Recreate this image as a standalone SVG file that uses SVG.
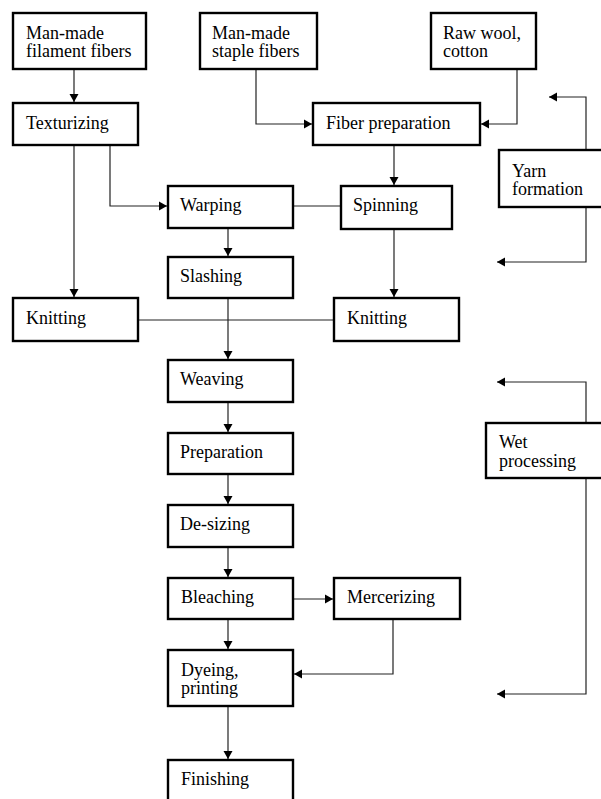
<svg xmlns="http://www.w3.org/2000/svg" width="601" height="799" viewBox="0 0 601 799">
<style>
.box{fill:#fff;stroke:#000;stroke-width:2.4}
.t{font-family:"Liberation Serif","Times New Roman",serif;font-size:18px;fill:#000}
.c{fill:none;stroke:#222;stroke-width:1.2}
</style>
<defs>
<marker id="ah" markerUnits="userSpaceOnUse" markerWidth="9" markerHeight="10" refX="8" refY="4.5" orient="auto" viewBox="0 0 9 9">
<path d="M0,0 L8,4.5 L0,9 z" fill="#000"/>
</marker>
</defs>
<rect width="601" height="799" fill="#fff"/>
<g id="connectors">
<path class="c" d="M74,69 V102" marker-end="url(#ah)"/>
<path class="c" d="M256,69 V124 H312" marker-end="url(#ah)"/>
<path class="c" d="M517,69 V124 H481" marker-end="url(#ah)"/>
<path class="c" d="M394,145 V185" marker-end="url(#ah)"/>
<path class="c" d="M110,145 V206 H167" marker-end="url(#ah)"/>
<path class="c" d="M74,145 V297" marker-end="url(#ah)"/>
<path class="c" d="M293,206 H341"/>
<path class="c" d="M228,228 V256" marker-end="url(#ah)"/>
<path class="c" d="M394,229 V297" marker-end="url(#ah)"/>
<path class="c" d="M228,298 V359" marker-end="url(#ah)"/>
<path class="c" d="M138,320 H334"/>
<path class="c" d="M228,402 V432" marker-end="url(#ah)"/>
<path class="c" d="M228,474 V504" marker-end="url(#ah)"/>
<path class="c" d="M228,547 V577" marker-end="url(#ah)"/>
<path class="c" d="M293,599 H333" marker-end="url(#ah)"/>
<path class="c" d="M228,619 V649" marker-end="url(#ah)"/>
<path class="c" d="M393,619 V674 H294" marker-end="url(#ah)"/>
<path class="c" d="M228,706 V759" marker-end="url(#ah)"/>
<path class="c" d="M586,150 V97 H549" marker-end="url(#ah)"/>
<path class="c" d="M586,207 V262 H497" marker-end="url(#ah)"/>
<path class="c" d="M586,423 V382 H497" marker-end="url(#ah)"/>
<path class="c" d="M586,478 V694 H497" marker-end="url(#ah)"/>
</g>
<g id="n-filament"><rect class="box" x="13" y="13" width="133" height="56"/><text class="t" x="26" y="39">Man-made</text><text class="t" x="26" y="57">filament fibers</text></g>
<g id="n-staple"><rect class="box" x="200" y="13" width="117" height="56"/><text class="t" x="212" y="39">Man-made</text><text class="t" x="212" y="57">staple fibers</text></g>
<g id="n-raw"><rect class="box" x="431" y="13" width="105" height="56"/><text class="t" x="443" y="39">Raw wool,</text><text class="t" x="443" y="57">cotton</text></g>
<g id="n-texturizing"><rect class="box" x="13" y="103" width="125" height="42"/><text class="t" x="26" y="129">Texturizing</text></g>
<g id="n-fiberprep"><rect class="box" x="313" y="103" width="167" height="42"/><text class="t" x="326" y="129">Fiber preparation</text></g>
<g id="n-yarn"><rect class="box" x="499" y="150" width="110" height="57"/><text class="t" x="512" y="177">Yarn</text><text class="t" x="512" y="195">formation</text></g>
<g id="n-warping"><rect class="box" x="168" y="186" width="125" height="42"/><text class="t" x="180" y="211">Warping</text></g>
<g id="n-spinning"><rect class="box" x="341" y="186" width="111" height="43"/><text class="t" x="353" y="211">Spinning</text></g>
<g id="n-slashing"><rect class="box" x="168" y="257" width="125" height="41"/><text class="t" x="180" y="282">Slashing</text></g>
<g id="n-knitting1"><rect class="box" x="13" y="298" width="125" height="43"/><text class="t" x="26" y="324">Knitting</text></g>
<g id="n-knitting2"><rect class="box" x="334" y="298" width="125" height="43"/><text class="t" x="347" y="324">Knitting</text></g>
<g id="n-weaving"><rect class="box" x="168" y="360" width="125" height="42"/><text class="t" x="180" y="385">Weaving</text></g>
<g id="n-wet"><rect class="box" x="486" y="423" width="123" height="55"/><text class="t" x="499" y="448">Wet</text><text class="t" x="499" y="467">processing</text></g>
<g id="n-preparation"><rect class="box" x="168" y="433" width="125" height="41"/><text class="t" x="180" y="458">Preparation</text></g>
<g id="n-desizing"><rect class="box" x="168" y="505" width="125" height="42"/><text class="t" x="180" y="530">De-sizing</text></g>
<g id="n-bleaching"><rect class="box" x="168" y="578" width="125" height="41"/><text class="t" x="181" y="603">Bleaching</text></g>
<g id="n-mercerizing"><rect class="box" x="334" y="578" width="126" height="41"/><text class="t" x="347" y="603">Mercerizing</text></g>
<g id="n-dyeing"><rect class="box" x="168" y="650" width="125" height="56"/><text class="t" x="181" y="676">Dyeing,</text><text class="t" x="181" y="694">printing</text></g>
<g id="n-finishing"><rect class="box" x="168" y="760" width="125" height="60"/><text class="t" x="181" y="785">Finishing</text></g>
</svg>
